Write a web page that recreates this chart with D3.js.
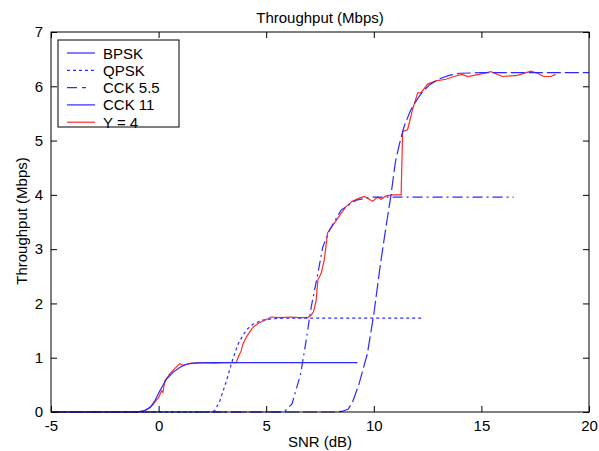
<!DOCTYPE html>
<html><head><meta charset="utf-8">
<script src="https://cdn.jsdelivr.net/npm/d3@7"></script>
<style>body{margin:0;background:#fff}svg{display:block}</style>
</head><body><svg id="c" width="599" height="451"></svg>
<script>
const xTicks = [-5, 0, 5, 10, 15, 20];
const yTicks = [0, 1, 2, 3, 4, 5, 6, 7];
const legendLabels = ["BPSK", "QPSK", "CCK 5.5", "CCK 11", "Y = 4"];

const bpskSnr = [-5, -1.0, -0.7, -0.4, -0.18, 0.06, 0.36, 0.67, 0.98, 1.29, 1.76, 2.5, 9.24];
const bpskThr = [0, 0, 0.02, 0.08, 0.2, 0.39, 0.6, 0.73, 0.82, 0.88, 0.905, 0.91, 0.91];

const qpskSnr = [-5, 2.3, 2.6, 2.84, 3.0, 3.15, 3.38, 3.53, 3.69, 3.9, 4.1, 4.4, 4.8, 5.3, 6.0, 12.25];
const qpskThr = [0, 0, 0.02, 0.2, 0.39, 0.57, 0.89, 1.07, 1.25, 1.4, 1.52, 1.62, 1.69, 1.72, 1.73, 1.73];

const cck55Snr = [-5, 5.6, 5.9, 6.2, 6.6, 6.85, 7.09, 7.4, 7.63, 7.94, 8.48, 9.18, 9.93, 16.5];
const cck55Thr = [0, 0, 0.03, 0.15, 0.7, 1.3, 1.93, 2.55, 3.04, 3.35, 3.72, 3.9, 3.96, 3.96];

const cck11Snr = [-5, 8.2, 8.5, 8.8, 9.0, 9.3, 9.7, 10.0, 10.3, 10.6, 10.8, 11.0, 11.2, 11.4, 11.7, 12.0, 12.25, 12.6, 13.0, 13.5, 14.0, 15.0, 20];
const cck11Thr = [0, 0, 0.01, 0.05, 0.17, 0.5, 1.07, 1.8, 2.7, 3.5, 4.0, 4.6, 4.95, 5.25, 5.55, 5.75, 5.89, 6.03, 6.13, 6.2, 6.24, 6.25, 6.25];

const y4Snr = [-5, -1.0, -0.6, -0.3, -0.1, 0.0, 0.13, 0.2, 0.29, 0.52, 0.75, 0.98, 1.13, 1.29, 1.5, 1.76, 2.2, 2.6, 3.0, 3.6, 3.69, 3.84, 3.92, 4.08, 4.23, 4.38, 4.62, 4.93, 5.24, 5.6, 6.16, 6.5, 6.93, 7.09, 7.2, 7.25, 7.32, 7.4, 7.55, 7.7, 7.85, 8.17, 8.48, 8.7, 9.0, 9.33, 9.56, 9.95, 10.17, 10.34, 10.57, 10.9, 11.27, 11.34, 11.57, 11.8, 12.04, 12.19, 12.5, 12.89, 13.35, 13.8, 14.12, 14.36, 14.9, 15.44, 15.98, 16.67, 17.3, 17.6, 17.9, 18.22, 18.45];
const y4Thr = [0, 0, 0.03, 0.12, 0.22, 0.26, 0.39, 0.36, 0.57, 0.7, 0.8, 0.89, 0.86, 0.88, 0.9, 0.9, 0.91, 0.9, 0.91, 0.91, 1.0, 1.13, 1.25, 1.38, 1.47, 1.56, 1.63, 1.69, 1.75, 1.74, 1.75, 1.74, 1.74, 1.78, 1.85, 1.93, 2.05, 2.43, 2.55, 2.8, 3.3, 3.48, 3.66, 3.78, 3.88, 3.94, 3.97, 3.88, 3.96, 3.92, 3.98, 4.0, 4.0, 5.17, 5.2, 5.57, 5.88, 5.88, 6.04, 6.1, 6.13, 6.19, 6.22, 6.18, 6.22, 6.27, 6.18, 6.2, 6.28, 6.24, 6.18, 6.18, 6.22];

const BLUE = "#2a2aff", RED = "#ff2a2a";
const styles = {
  "BPSK":    {color: BLUE, dash: null},
  "QPSK":    {color: BLUE, dash: "3,3"},
  "CCK 5.5": {color: BLUE, dash: "10,4,2,4"},
  "CCK 11":  {color: BLUE, dash: "14,4"},
  "Y = 4":   {color: RED,  dash: null}
};
const legendDash = {"BPSK": null, "QPSK": "3,3", "CCK 5.5": "10,5,4,9", "CCK 11": null, "Y = 4": null};

const series = [
  {name: "Y = 4", snr: y4Snr, thr: y4Thr},
  {name: "BPSK", snr: bpskSnr, thr: bpskThr},
  {name: "QPSK", snr: qpskSnr, thr: qpskThr},
  {name: "CCK 5.5", snr: cck55Snr, thr: cck55Thr},
  {name: "CCK 11", snr: cck11Snr, thr: cck11Thr}
];

const L = 51, R = 589, T = 32, B = 412;
const font = "Arial, 'Liberation Sans', sans-serif";
const svg = d3.select("#c");
svg.append("rect").attr("width", 599).attr("height", 451).attr("fill", "#fff");

const x = d3.scaleLinear().domain([-5, 20]).range([L, R]);
const y = d3.scaleLinear().domain([0, 7]).range([B, T]);

const line = d3.line().x(d => x(d[0])).y(d => y(d[1]));

const plot = svg.append("g");
series.forEach(s => {
  const pts = s.snr.map((v, i) => [v, s.thr[i]]);
  const st = styles[s.name];
  plot.append("path").datum(pts)
    .attr("d", line)
    .attr("fill", "none")
    .attr("stroke", st.color)
    .attr("stroke-width", 1.2)
    .attr("stroke-dasharray", st.dash);
});

function styleAxis(g) {
  g.select(".domain").remove();
  g.selectAll("line").attr("stroke", "#000");
  g.selectAll("text").attr("font-family", font).attr("font-size", 15).attr("fill", "#000");
}
const plain = d => String(d);

svg.append("g").attr("transform", `translate(0,${B})`)
  .call(d3.axisBottom(x).tickValues(xTicks).tickSize(-6).tickSizeOuter(0).tickPadding(8).tickFormat(plain))
  .call(styleAxis);
svg.append("g").attr("transform", `translate(0,${T})`)
  .call(d3.axisTop(x).tickValues(xTicks).tickSize(-6).tickSizeOuter(0).tickFormat(""))
  .call(styleAxis);
svg.append("g").attr("transform", `translate(${L},0)`)
  .call(d3.axisLeft(y).tickValues(yTicks).tickSize(-6).tickSizeOuter(0).tickPadding(8).tickFormat(plain))
  .call(styleAxis);
svg.append("g").attr("transform", `translate(${R},0)`)
  .call(d3.axisRight(y).tickValues(yTicks).tickSize(-6).tickSizeOuter(0).tickFormat(""))
  .call(styleAxis);

svg.append("rect").attr("x", L).attr("y", T).attr("width", R - L).attr("height", B - T)
  .attr("fill", "none").attr("stroke", "#000").attr("stroke-width", 1);

svg.append("text").attr("x", 320).attr("y", 23).attr("text-anchor", "middle")
  .attr("font-family", font).attr("font-size", 15).text("Throughput (Mbps)");
svg.append("text").attr("x", 320).attr("y", 447).attr("text-anchor", "middle")
  .attr("font-family", font).attr("font-size", 15).text("SNR (dB)");
svg.append("text").attr("transform", "translate(27,221) rotate(-90)").attr("text-anchor", "middle")
  .attr("font-family", font).attr("font-size", 15).text("Throughput (Mbps)");

// legend
const lg = svg.append("g");
lg.append("rect").attr("x", 58).attr("y", 40).attr("width", 121).attr("height", 87)
  .attr("fill", "#fff").attr("stroke", "#000").attr("stroke-width", 1);
legendLabels.forEach((name, i) => {
  const yy = 53 + i * 17.3;
  lg.append("line").attr("x1", 67).attr("x2", 95).attr("y1", yy).attr("y2", yy)
    .attr("stroke", styles[name].color).attr("stroke-width", 1.2)
    .attr("stroke-dasharray", legendDash[name]);
  lg.append("text").attr("x", 103).attr("y", yy + 5.5)
    .attr("font-family", font).attr("font-size", 15).text(name);
});
</script>
</body></html>
